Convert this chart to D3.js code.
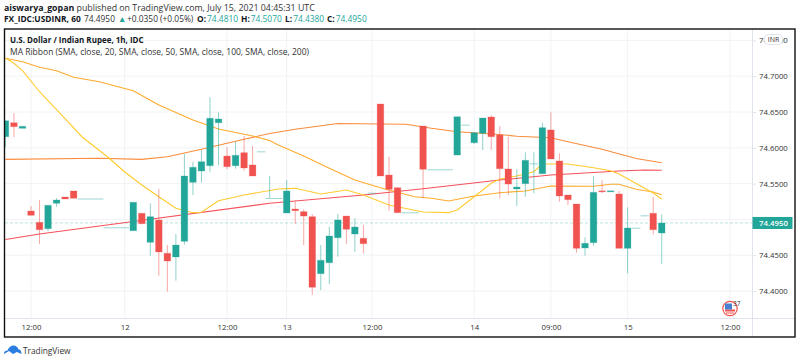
<!DOCTYPE html>
<html>
<head>
<meta charset="utf-8">
<script src="https://cdn.jsdelivr.net/npm/d3@7"></script>
<style>
  html, body { margin: 0; padding: 0; background: #fff; overflow: hidden; }
  text { font-family: "Open Sans", sans-serif; }
</style>
</head>
<body>
<div id="chart"></div>
<script>
const opens = [
  74.6155, 74.6350, 74.6272, 74.5117, 74.4959, 74.4870, 74.5225, 74.5313, 74.5397, 74.5292,
  74.5292, 74.5292, 74.4890, 74.4890, 74.4890, 74.4842, 74.5085, 74.4680, 74.4992, 74.4527,
  74.4475, 74.4694, 74.5518, 74.5676, 74.5750, 74.6350, 74.5885, 74.5750, 74.5932, 74.5760,
  74.5951, 74.5299, 74.5299, 74.5089, 74.5145, 74.5108, 74.5038, 74.4242, 74.4395, 74.4744,
  74.5047, 74.4796, 74.4736, 74.5373, 74.6612, 74.5620, 74.5443, 74.5099, 74.5099, 74.6304,
  74.5700, 74.5700, 74.5700, 74.5899, 74.6323, 74.6071, 74.6202, 74.6430, 74.6179, 74.5704,
  74.5425, 74.5499, 74.5783, 74.5638, 74.6249, 74.5816, 74.5341, 74.5215, 74.4601, 74.4675,
  74.5399, 74.5390, 74.5355, 74.4596, 74.4884, 74.5057, 74.5085, 74.4810,
];
const highs = [
  74.6378, 74.6486, 74.6300, 74.5187, 74.5271, 74.5197, 74.5299, 74.5313, 74.5397, 74.5292,
  74.5292, 74.5292, 74.4890, 74.4890, 74.4890, 74.5239, 74.5085, 74.5225, 74.5425, 74.4642,
  74.4796, 74.5913, 74.5806, 74.5969, 74.6705, 74.6496, 74.6007, 74.6085, 74.6165, 74.6025,
  74.5951, 74.5606, 74.5299, 74.5550, 74.5261, 74.5141, 74.5075, 74.4642, 74.4898, 74.5075,
  74.5047, 74.5015, 74.4922, 74.5373, 74.6612, 74.5876, 74.5443, 74.5099, 74.5099, 74.6304,
  74.5700, 74.5700, 74.5700, 74.6434, 74.6323, 74.6211, 74.6416, 74.6458, 74.6304, 74.6155,
  74.5700, 74.5937, 74.5937, 74.6350, 74.6496, 74.5923, 74.5341, 74.5215, 74.4750, 74.5606,
  74.5550, 74.5399, 74.5397, 74.5169, 74.4884, 74.5057, 74.5313, 74.5070,
];
const lows = [
  74.6011, 74.6151, 74.6272, 74.5057, 74.4656, 74.4838, 74.5177, 74.5285, 74.5295, 74.5292,
  74.5292, 74.5292, 74.4890, 74.4890, 74.4890, 74.4842, 74.4940, 74.4493, 74.4214, 74.3990,
  74.4144, 74.4647, 74.5341, 74.5513, 74.5666, 74.5760, 74.5700, 74.5708, 74.5680, 74.5606,
  74.5951, 74.5299, 74.5299, 74.5089, 74.4936, 74.4642, 74.3944, 74.4014, 74.4098, 74.4479,
  74.4656, 74.4549, 74.4527, 74.5373, 74.5606, 74.5121, 74.5094, 74.5099, 74.5099, 74.5295,
  74.5700, 74.5700, 74.5700, 74.5899, 74.6323, 74.6053, 74.5969, 74.5969, 74.5289, 74.5341,
  74.5187, 74.5317, 74.5364, 74.5638, 74.5844, 74.5247, 74.5201, 74.4535, 74.4493, 74.4633,
  74.5369, 74.5390, 74.4596, 74.4247, 74.4884, 74.5057, 74.4792, 74.4380,
];
const closes = [
  74.6378, 74.6295, 74.6300, 74.5057, 74.4856, 74.5197, 74.5271, 74.5285, 74.5295, 74.5292,
  74.5292, 74.5292, 74.4890, 74.4890, 74.4890, 74.5239, 74.4940, 74.5038, 74.4545, 74.4419,
  74.4642, 74.5606, 74.5728, 74.5806, 74.6412, 74.6402, 74.5736, 74.5895, 74.5718, 74.5606,
  74.5951, 74.5299, 74.5299, 74.5397, 74.5121, 74.5047, 74.4052, 74.4429, 74.4768, 74.4992,
  74.4862, 74.4894, 74.4661, 74.5373, 74.5606, 74.5420, 74.5094, 74.5099, 74.5099, 74.5700,
  74.5700, 74.5700, 74.5700, 74.6434, 74.6323, 74.6211, 74.6416, 74.6155, 74.5708, 74.5494,
  74.5452, 74.5825, 74.5783, 74.6281, 74.5844, 74.5327, 74.5275, 74.4596, 74.4666, 74.5378,
  74.5390, 74.5399, 74.4596, 74.4880, 74.4884, 74.5057, 74.4856, 74.4950,
];

// MA ribbon at the bar numbers listed with each series
const ma20Bars = [0, 1, 2, 4, 6, 9, 12, 14, 16, 18, 20, 22, 23, 25, 28, 32, 34, 37, 40, 42, 45, 49, 52, 53, 55, 57, 58, 60, 62, 63, 66, 69, 71, 72, 76, 77];
const ma20 = [74.7254, 74.7180, 74.7077, 74.6783, 74.6533, 74.6151, 74.5871, 74.5662, 74.5480, 74.5317, 74.5155, 74.5094, 74.5099, 74.5261, 74.5341, 74.5425, 74.5434, 74.5355, 74.5411, 74.5341, 74.5201, 74.5103, 74.5094, 74.5131, 74.5317, 74.5504, 74.5564, 74.5606, 74.5666, 74.5774, 74.5774, 74.5722, 74.5680, 74.5634, 74.5369, 74.5281];
const ma50Bars = [0, 2, 4, 6, 8, 11, 15, 18, 22, 25, 29, 31, 32, 35, 38, 41, 44, 48, 50, 52, 55, 58, 61, 64, 69, 71, 72, 74, 76, 77];
const ma50 = [74.7250, 74.7202, 74.7124, 74.7077, 74.6985, 74.6923, 74.6797, 74.6598, 74.6388, 74.6262, 74.6165, 74.6102, 74.6039, 74.5885, 74.5714, 74.5550, 74.5443, 74.5317, 74.5295, 74.5257, 74.5327, 74.5373, 74.5397, 74.5466, 74.5462, 74.5490, 74.5490, 74.5420, 74.5383, 74.5345];
const ma100Bars = [0, 11, 16, 19, 23, 28, 31, 34, 39, 44, 47, 50, 53, 58, 60, 64, 66, 70, 74, 77];
const ma100 = [74.5839, 74.5853, 74.5839, 74.5876, 74.5979, 74.6119, 74.6200, 74.6258, 74.6339, 74.6332, 74.6328, 74.6272, 74.6225, 74.6186, 74.6161, 74.6141, 74.6085, 74.5979, 74.5851, 74.5792];
const ma200Bars = [0, 4, 15, 31, 42, 49, 58, 64, 72, 75, 77];
const ma200 = [74.4719, 74.4796, 74.4971, 74.5225, 74.5341, 74.5429, 74.5550, 74.5620, 74.5676, 74.5690, 74.5686];

const priceTicks = [74.4, 74.45, 74.5, 74.55, 74.6, 74.65, 74.7, 74.75];
const timeTickBars = [3, 14, 26, 33, 43, 55, 64, 73, 85];
const timeTickLabels = ["12:00", "12", "12:00", "13", "12:00", "14", "09:00", "15", "12:00"];

const lastPrice = 74.495;
const upColor = "#22a699";
const downColor = "#f0534f";

class CandleChart {
  constructor(parentElement) {
    this.parentElement = parentElement;
    this.initVis();
  }

  initVis() {
    this.setDimensions();
    this.createSvg();
    this.setScales();
    this.drawHeader();
    this.drawGrid();
    this.drawMaLines();
    this.drawCandles();
    this.drawAxes();
    this.drawFrame();
    this.drawExtras();
  }

  setDimensions() {
    this.dimensions = {
      width: 800,
      height: 362,
      left: 5,
      top: 29,
      plotRight: 752,
      plotBottom: 318,
      right: 795,
      bottom: 337,
    };
  }

  createSvg() {
    this.svg = d3
      .select(this.parentElement)
      .append("svg")
      .attr("width", this.dimensions.width)
      .attr("height", this.dimensions.height)
      .style("display", "block");

    const d = this.dimensions;
    this.svg
      .append("clipPath")
      .attr("id", "plot-clip")
      .append("rect")
      .attr("x", d.left)
      .attr("y", d.top)
      .attr("width", d.plotRight - d.left)
      .attr("height", d.plotBottom - d.top);
    this.plot = this.svg.append("g").attr("clip-path", "url(#plot-clip)");
  }

  setScales() {
    this.xScale = d3.scaleLinear().domain([0, 85]).range([5.43, 729.9]);
    this.yScale = d3.scaleLinear().domain([74.4, 74.7]).range([291, 76.2]);
  }

  drawHeader() {
    const head = this.svg.append("g").attr("fill", "#131722");

    const line1 = head.append("text").attr("x", 4).attr("y", 11).attr("font-size", 8.8);
    line1.append("tspan").attr("font-weight", 700).text("aiswarya_gopan");
    line1.append("tspan").attr("fill", "#333").text(" published on TradingView.com, July 15, 2021 04:45:31 UTC");

    const line2 = head.append("text").attr("x", 4).attr("y", 22).attr("font-size", 8.4);
    line2.append("tspan").attr("font-weight", 700).text("FX_IDC:USDINR, 60");
    line2.append("tspan").attr("fill", "#333").attr("x", 84).text("74.4950");
    line2.append("tspan").attr("fill", upColor).attr("x", 118).text("▲");
    line2.append("tspan").attr("fill", "#333").attr("x", 127).text("+0.0350 (+0.05%)");
    [["O:", "74.4810", 197], ["H:", "74.5070", 241], ["L:", "74.4380", 285], ["C:", "74.4950", 327]].forEach(([k, v, x]) => {
      line2.append("tspan").attr("font-weight", 700).attr("x", x).text(k);
      line2.append("tspan").attr("fill", upColor).attr("dx", 1).text(v);
    });

    head.append("text").attr("x", 10).attr("y", 43).attr("font-size", 8).attr("font-weight", 700)
      .text("U.S. Dollar / Indian Rupee, 1h, IDC");
    head.append("text").attr("x", 10).attr("y", 55).attr("font-size", 8.5).attr("fill", "#333")
      .text("MA Ribbon (SMA, close, 20, SMA, close, 50, SMA, close, 100, SMA, close, 200)");
  }

  drawGrid() {
    const d = this.dimensions;
    const grid = this.plot.append("g").attr("stroke", "#f0f2f5").attr("stroke-width", 1);
    grid.selectAll(".h").data(priceTicks).join("line")
      .attr("x1", d.left).attr("x2", d.plotRight)
      .attr("y1", (p) => this.yScale(p)).attr("y2", (p) => this.yScale(p));
    grid.selectAll(".v").data(timeTickBars).join("line")
      .attr("y1", d.top).attr("y2", d.plotBottom)
      .attr("x1", (b) => this.xScale(b)).attr("x2", (b) => this.xScale(b));

    this.plot.append("line")
      .attr("x1", d.left).attr("x2", d.plotRight)
      .attr("y1", this.yScale(lastPrice)).attr("y2", this.yScale(lastPrice))
      .attr("stroke", upColor).attr("stroke-opacity", 0.3)
      .attr("stroke-dasharray", "3 2");
  }

  drawMaLines() {
    const line = d3.line()
      .x((d) => this.xScale(d[0]))
      .y((d) => this.yScale(d[1]));
    const series = [
      [ma200Bars, ma200, "#f5515a"],
      [ma100Bars, ma100, "#fb8c3c"],
      [ma50Bars, ma50, "#ffab2e"],
      [ma20Bars, ma20, "#ffcb2f"],
    ];
    this.plot.append("g").selectAll("path").data(series).join("path")
      .attr("d", ([bars, vals]) => line(d3.zip(bars, vals)))
      .attr("fill", "none")
      .attr("stroke", (s) => s[2])
      .attr("stroke-width", 1.1);
  }

  drawCandles() {
    const bars = d3.range(opens.length);
    const color = (i) => (closes[i] >= opens[i] ? upColor : downColor);
    const g = this.plot.append("g");

    g.selectAll(".wick").data(bars).join("line")
      .attr("x1", (i) => this.xScale(i)).attr("x2", (i) => this.xScale(i))
      .attr("y1", (i) => this.yScale(highs[i])).attr("y2", (i) => this.yScale(lows[i]))
      .attr("stroke", color).attr("stroke-opacity", 0.5);

    g.selectAll(".body").data(bars).join("rect")
      .attr("x", (i) => this.xScale(i) - (opens[i] === closes[i] ? 4.2 : 3.3))
      .attr("width", (i) => (opens[i] === closes[i] ? 8.4 : 6.6))
      .attr("y", (i) => this.yScale(Math.max(opens[i], closes[i])))
      .attr("height", (i) => Math.max(1, Math.abs(this.yScale(opens[i]) - this.yScale(closes[i]))))
      .attr("fill", color)
      .attr("fill-opacity", (i) => (opens[i] === closes[i] ? 0.45 : 1))
      .attr("stroke", color)
      .attr("stroke-opacity", (i) => (opens[i] === closes[i] ? 0 : 0.25));
  }

  drawAxes() {
    const d = this.dimensions;
    const yAxis = d3.axisRight(this.yScale)
      .tickValues(priceTicks)
      .tickFormat(d3.format(".4f"))
      .tickSize(4)
      .tickPadding(3);
    const yGroup = this.svg.append("g")
      .attr("transform", `translate(${d.plotRight}, 0)`)
      .call(yAxis);
    yGroup.select(".domain").remove();
    yGroup.selectAll(".tick line").attr("stroke", "#e0e3eb");
    yGroup.selectAll("text").attr("font-size", 7.8).attr("fill", "#333").attr("font-family", '"Open Sans", sans-serif');

    const xAxis = d3.axisBottom(this.xScale)
      .tickValues(timeTickBars)
      .tickFormat((b) => timeTickLabels[timeTickBars.indexOf(b)])
      .tickSize(0)
      .tickPadding(6);
    const xGroup = this.svg.append("g")
      .attr("transform", `translate(0, ${d.plotBottom})`)
      .call(xAxis);
    xGroup.select(".domain").remove();
    xGroup.selectAll("text").attr("font-size", 7.8).attr("fill", "#333").attr("font-family", '"Open Sans", sans-serif');

    this.svg.append("line")
      .attr("x1", d.left).attr("x2", d.right)
      .attr("y1", d.plotBottom + 0.5).attr("y2", d.plotBottom + 0.5)
      .attr("stroke", "#e0e3eb");
    this.svg.append("line")
      .attr("x1", d.plotRight + 0.5).attr("x2", d.plotRight + 0.5)
      .attr("y1", d.top).attr("y2", d.bottom)
      .attr("stroke", "#e0e3eb");
  }

  drawFrame() {
    const d = this.dimensions;
    this.svg.append("rect")
      .attr("x", d.left - 0.5).attr("y", d.top)
      .attr("width", d.right - d.left + 0.5).attr("height", d.bottom - d.top)
      .attr("fill", "none")
      .attr("stroke", "#111")
      .attr("stroke-width", 1.4);
  }

  drawExtras() {
    const d = this.dimensions;
    const y = this.yScale(lastPrice);

    // last price tag
    this.svg.append("rect")
      .attr("x", d.plotRight + 0.5).attr("y", y - 6)
      .attr("width", 40).attr("height", 12)
      .attr("fill", upColor);
    this.svg.append("text")
      .attr("x", d.plotRight + 7).attr("y", y + 2.8)
      .attr("font-size", 7.8).attr("font-weight", 600).attr("fill", "#fff")
      .text(d3.format(".4f")(lastPrice));

    // currency pill over the top tick
    this.svg.append("rect")
      .attr("x", 764.5).attr("y", 34.5).attr("width", 18).attr("height", 10).attr("rx", 4)
      .attr("fill", "#fff").attr("stroke", "#e0e3eb");
    this.svg.append("text")
      .attr("x", 773.5).attr("y", 42.2).attr("text-anchor", "middle")
      .attr("font-size", 7).attr("fill", "#333").text("INR");

    // earnings flag near the time axis
    const flag = this.svg.append("g").attr("transform", "translate(730, 308.5)");
    flag.append("circle").attr("r", 7.2).attr("fill", "#fff").attr("stroke", "#f0534f").attr("stroke-width", 1.2);
    flag.append("path").attr("d", "M-5,1H5V3H-5Z").attr("fill", "#f0534f");
    flag.append("path").attr("d", "M-4,4H4V5H-4Z").attr("fill", "#f0534f");
    flag.append("rect").attr("x", -5).attr("y", -5).attr("width", 7).attr("height", 6).attr("fill", "#4a7fd0");
    this.svg.append("text").attr("x", 733).attr("y", 306).attr("font-size", 6.5).attr("fill", "#333").text("37");

    // TradingView logo
    const logo = this.svg.append("g").attr("transform", "translate(4, 345)");
    logo.append("path")
      .attr("d", "M0,9 C0,6 2,5.5 3.5,5.5 C4.5,2.5 7,0.5 9.5,0.5 C12,0.5 14,2.5 14.5,4.5 C16,4 17.5,5.5 17.5,9 L13,7 L9,9 L5,6 Z")
      .attr("fill", "#2c7de0");
    logo.append("text").attr("x", 19).attr("y", 9)
      .attr("font-size", 8.3).attr("fill", "#333").text("TradingView");
  }
}

new CandleChart("#chart");
</script>
</body>
</html>
